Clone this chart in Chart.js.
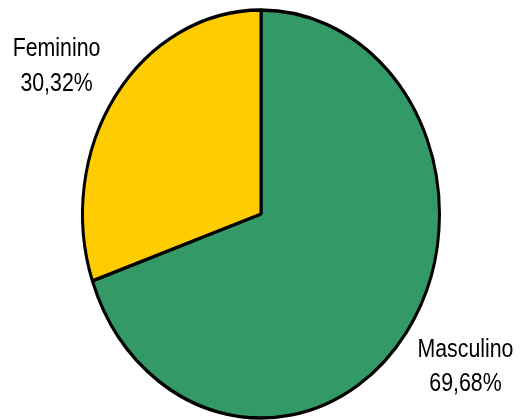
<!doctype html>
<html lang="pt">
<head>
  <meta charset="utf-8">
  <title>Sexo</title>
  <script src="https://cdn.jsdelivr.net/npm/chart.js"></script>
  <style>
    html, body { margin: 0; padding: 0; background: #fff; }
    #wrap { width: 522px; height: 420px; }
  </style>
</head>
<body>
  <div id="wrap"><canvas id="pieChart" width="522" height="420"></canvas></div>
  <script>
    // data
    const categorias = ['Masculino', 'Feminino'];
    const percentuais = [69.68, 30.32];
    const cores = ['#339966', '#FFCC00'];

    // stretch the pie vertically (the original is an ellipse)
    const stretchY = 204 / 178.5;
    // the labels use a narrow face; no narrow font here, so squeeze the normal one
    const squeezeX = 0.82;

    const ellipsePlugin = {
      id: 'ellipse',
      beforeDatasetsDraw(chart) {
        const meta = chart.getDatasetMeta(0);
        const cy = meta.data[0].y;
        const ctx = chart.ctx;
        ctx.save();
        ctx.translate(0, cy);
        ctx.scale(1, stretchY);
        ctx.translate(0, -cy);
      },
      afterDatasetsDraw(chart) {
        chart.ctx.restore();
      }
    };

    const labelPlugin = {
      id: 'rotulos',
      afterDraw(chart) {
        const ctx = chart.ctx;
        const meta = chart.getDatasetMeta(0);
        meta.data.forEach(function(arc, i) {
          const mid = (arc.startAngle + arc.endAngle) / 2;
          const dx = Math.cos(mid), dy = Math.sin(mid);
          const ex = arc.x + dx * arc.outerRadius;
          const ey = arc.y + dy * arc.outerRadius * stretchY;
          const cx = ex + Math.sign(dx) * 59;
          const cy = ey + Math.sign(dy) * 32;
          const txt = percentuais[i].toFixed(2).replace('.', ',') + '%';
          ctx.save();
          ctx.translate(cx, cy);
          ctx.scale(squeezeX, 1);
          ctx.font = '26px "Liberation Sans", Arial, sans-serif';
          ctx.fillStyle = '#000';
          ctx.textAlign = 'center';
          ctx.textBaseline = 'alphabetic';
          ctx.fillText(categorias[i], 0, -7.5);
          ctx.fillText(txt, 0, 27);
          ctx.restore();
        });
      }
    };

    new Chart(document.getElementById('pieChart'), {
      type: 'pie',
      data: {
        labels: categorias,
        datasets: [{
          data: percentuais,
          backgroundColor: cores,
          borderColor: '#000',
          borderWidth: 3
        }]
      },
      options: {
        responsive: false,
        animation: false,
        layout: { padding: { left: 81, right: 81, top: 34, bottom: 26 } },
        plugins: {
          legend: { display: false },
          tooltip: { enabled: false }
        }
      },
      plugins: [ellipsePlugin, labelPlugin]
    });
  </script>
</body>
</html>
